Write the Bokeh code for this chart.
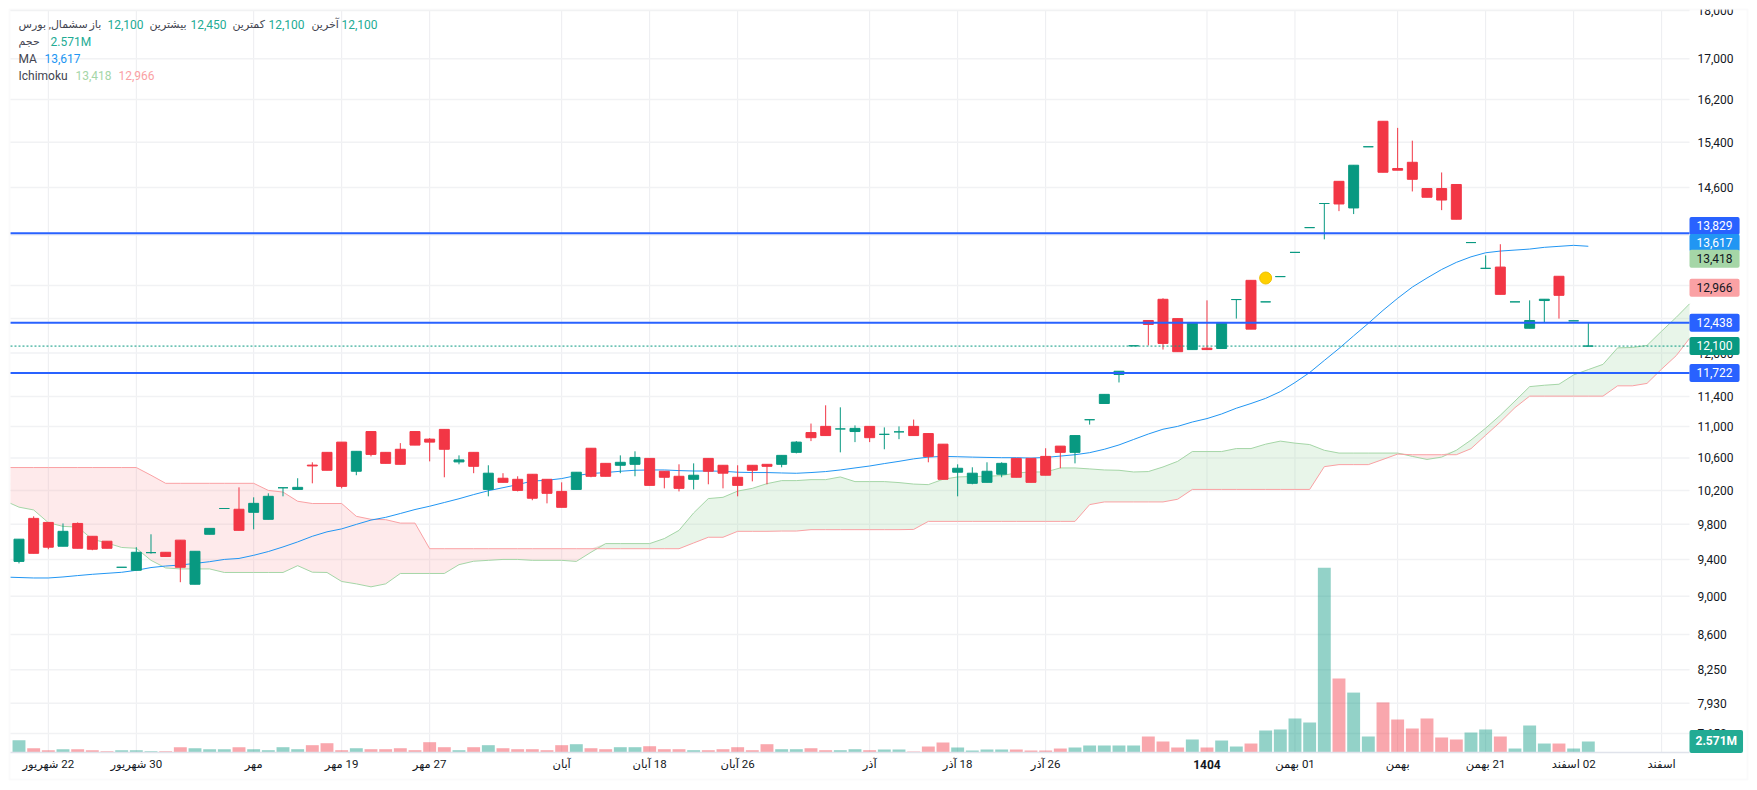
import numpy as np

from bokeh.embed import file_html
from bokeh.models import BoxAnnotation, FixedTicker, Label, LinearAxis, LinearScale, LogAxis, NumeralTickFormatter, Range1d
from bokeh.plotting import figure
from bokeh.resources import INLINE

opens = [9378, 9868, 9821, 9548, 9809, 9661, 9605, 9313, 9280, 9476,
         9480, 9617, 9128, 9684, 9984, 9975, 9939, 9857, 10232, 10212,
         10510, 10670, 10800, 10434, 10936, 10670, 10709, 10936, 10838, 10964,
         10550, 10670, 10212, 10348, 10335, 10397, 10335, 10188, 10212, 10722,
         10532, 10508, 10520, 10594, 10434, 10372, 10335, 10594, 10508, 10360,
         10508, 10520, 10520, 10670, 10923, 11003, 10970, 10936, 11003, 10900,
         10932, 11003, 10910, 10774, 10422, 10286, 10298, 10397, 10594, 10594,
         10619, 10749, 10670, 11090, 11305, 11700, 12104, 12472, 12789, 12500,
         12050, 12070, 12065, 12785, 13079, 12750, 13137, 13519, 13921, 14324,
         14705, 14249, 15319, 15788, 14930, 15040, 14580, 14580, 14650, 13677,
         13266, 13286, 12750, 12358, 12770, 13142, 12467, 12100]
highs = [9628, 9892, 9821, 9809, 9821, 9661, 9605, 9313, 9537, 9684,
         9480, 9617, 9491, 9752, 9984, 10237, 10117, 10165, 10232, 10348,
         10545, 10670, 10800, 10683, 10936, 10670, 10787, 10936, 10851, 10964,
         10632, 10670, 10508, 10410, 10372, 10397, 10335, 10298, 10422, 10722,
         10532, 10632, 10683, 10594, 10434, 10520, 10532, 10594, 10508, 10508,
         10508, 10520, 10632, 10813, 11040, 11281, 11254, 11016, 11003, 10990,
         11003, 11092, 10910, 10774, 10520, 10483, 10545, 10545, 10594, 10594,
         10722, 10749, 10884, 11090, 11428, 11745, 12104, 12472, 12804, 12500,
         12443, 12773, 12443, 12785, 13079, 12750, 13137, 13519, 13921, 14324,
         14705, 14988, 15319, 15788, 15665, 15430, 14580, 14860, 14650, 13677,
         13471, 13650, 12750, 12773, 12790, 13142, 12467, 12450]
lows = [9356, 9468, 9514, 9548, 9525, 9503, 9525, 9313, 9280, 9465,
        9433, 9150, 9128, 9684, 9984, 9729, 9741, 9857, 10129, 10212,
        10286, 10446, 10225, 10385, 10619, 10532, 10520, 10762, 10557, 10360,
        10520, 10410, 10129, 10298, 10188, 10082, 10045, 9998, 10212, 10360,
        10372, 10410, 10372, 10261, 10225, 10188, 10212, 10274, 10225, 10129,
        10310, 10274, 10483, 10657, 10813, 10884, 10670, 10800, 10800, 10709,
        10838, 10884, 10545, 10335, 10129, 10274, 10298, 10360, 10360, 10298,
        10385, 10471, 10532, 11026, 11305, 11590, 12104, 12109, 12050, 12020,
        12050, 12045, 12065, 12500, 12345, 12750, 13137, 13519, 13921, 13729,
        14195, 14146, 15319, 14864, 14900, 14530, 14430, 14212, 14060, 13677,
        13266, 12864, 12750, 12358, 12443, 12500, 12467, 12100]
closes = [9628, 9468, 9537, 9718, 9525, 9514, 9525, 9313, 9480, 9476,
          9433, 9313, 9491, 9752, 9984, 9729, 10045, 10129, 10232, 10237,
          10500, 10446, 10249, 10683, 10644, 10532, 10520, 10762, 10800, 10709,
          10575, 10495, 10410, 10298, 10200, 10106, 10165, 9998, 10422, 10372,
          10372, 10545, 10606, 10261, 10360, 10225, 10385, 10434, 10410, 10261,
          10446, 10495, 10632, 10800, 10857, 10884, 10970, 10977, 10857, 10900,
          10932, 10884, 10619, 10335, 10471, 10410, 10434, 10532, 10360, 10298,
          10385, 10670, 10884, 11090, 11428, 11745, 12104, 12414, 12138, 12020,
          12443, 12050, 12443, 12785, 12345, 12750, 13137, 13519, 13921, 14324,
          14316, 14988, 15319, 14864, 14900, 14740, 14430, 14383, 14060, 13677,
          13266, 12864, 12750, 12472, 12790, 12849, 12467, 12100]
volumes = [2.87, 1.0, 0.54, 0.77, 0.77, 0.54, 0.30, 0.54, 0.54, 0.30,
           0.30, 1.24, 1.0, 0.77, 0.77, 1.24, 0.77, 0.54, 1.24, 0.77,
           1.71, 2.17, 0.54, 1.0, 0.77, 0.77, 1.0, 0.54, 2.41, 1.24,
           0.54, 1.24, 1.71, 1.0, 0.77, 0.77, 0.54, 1.71, 1.94, 1.0,
           0.77, 1.24, 1.24, 1.47, 0.77, 0.77, 0.54, 0.54, 0.77, 1.24,
           0.54, 1.94, 0.77, 0.77, 1.0, 0.54, 0.54, 0.77, 0.54, 0.70,
           0.70, 0.23, 1.40, 2.34, 1.17, 0.47, 0.70, 0.70, 0.70, 0.47,
           0.47, 0.93, 1.17, 1.64, 1.64, 1.64, 1.64, 3.74, 2.57, 1.17,
           3.04, 1.17, 2.80, 1.40, 2.10, 5.14, 5.38, 7.95, 7.01, 43.2,
           17.3, 14.0, 3.74, 11.7, 7.71, 5.61, 7.95, 3.51, 3.04, 4.67,
           5.38, 3.74, 0.93, 6.31, 2.10, 2.10, 0.93, 2.571]

# these start at the left pane edge, the cloud runs 7 bars past the last candle
ma_values = [9204, 9201, 9196, 9196, 9207, 9222, 9236, 9247, 9258, 9280, 9310,
             9327, 9338, 9356, 9375, 9400, 9411, 9446, 9488, 9540, 9597,
             9661, 9712, 9746, 9798, 9848, 9880, 9925, 9972, 10011, 10055,
             10100, 10150, 10196, 10233, 10270, 10314, 10323, 10344, 10381, 10406,
             10418, 10434, 10446, 10450, 10450, 10442, 10437, 10437, 10434, 10422,
             10418, 10418, 10413, 10409, 10418, 10430, 10450, 10475, 10499, 10529,
             10557, 10588, 10610, 10619, 10615, 10610, 10606, 10603, 10603, 10598,
             10606, 10623, 10640, 10666, 10709, 10764, 10834, 10904, 10966, 11003,
             11060, 11105, 11166, 11242, 11305, 11374, 11465, 11589, 11727, 11896,
             12065, 12248, 12430, 12622, 12804, 12975, 13115, 13248, 13360, 13448,
             13513, 13540, 13556, 13572, 13600, 13616, 13632, 13617]
span_a = [10045, 10000, 9967, 9818, 9775, 9767, 9627, 9585, 9534, 9525, 9390,
          9306, 9295, 9295, 9295, 9256, 9256, 9256, 9256, 9256, 9331,
          9259, 9256, 9158, 9132, 9100, 9132, 9245, 9245, 9245, 9245,
          9342, 9380, 9390, 9400, 9400, 9390, 9390, 9390, 9378, 9480,
          9578, 9578, 9578, 9578, 9635, 9729, 9932, 10102, 10117, 10192,
          10225, 10282, 10319, 10319, 10331, 10331, 10364, 10307, 10307, 10307,
          10295, 10277, 10270, 10335, 10364, 10369, 10372, 10381, 10413, 10425,
          10425, 10475, 10475, 10463, 10450, 10446, 10425, 10430, 10487, 10557,
          10680, 10680, 10680, 10718, 10718, 10774, 10813, 10787, 10769, 10696,
          10661, 10661, 10661, 10661, 10661, 10619, 10581, 10610, 10696, 10826,
          10980, 11149, 11338, 11533, 11552, 11566, 11694, 11768, 11841, 12075,
          12080, 12109, 12316, 12520, 12720]
span_b = [10480, 10480, 10480, 10480, 10480, 10480, 10480, 10480, 10480, 10480, 10385,
          10286, 10286, 10286, 10286, 10286, 10286, 10286, 10200, 10180, 10070,
          10043, 10043, 10043, 9892, 9857, 9853, 9813, 9813, 9520, 9520,
          9520, 9520, 9520, 9520, 9520, 9520, 9520, 9520, 9520, 9520,
          9520, 9520, 9520, 9520, 9520, 9520, 9585, 9650, 9650, 9718,
          9718, 9718, 9721, 9721, 9737, 9737, 9737, 9737, 9737, 9737,
          9737, 9740, 9833, 9833, 9833, 9833, 9833, 9833, 9833, 9833,
          9833, 9833, 9833, 10030, 10062, 10062, 10062, 10062, 10062, 10094,
          10212, 10212, 10212, 10212, 10212, 10212, 10212, 10212, 10212, 10491,
          10516, 10516, 10516, 10581, 10648, 10640, 10640, 10640, 10640, 10716,
          10888, 11060, 11250, 11404, 11404, 11404, 11404, 11404, 11404, 11544,
          11544, 11577, 11775, 11965, 12210]

signal_bar = [85]
signal_price = [13115]
level_prices = [13829, 12438, 11722]
last_price = [12100]

price_ticks = [18000, 17000, 16200, 15400, 14600, 13800, 13000, 12500, 12000, 11400,
               11000, 10600, 10200, 9800, 9400, 9000, 8600, 8250, 7930, 7650]
date_ticks = [2, 8, 16, 22, 28, 37, 43, 49, 58, 64, 70, 81, 87, 94, 100, 106, 112]
date_labels = ["22 شهریور", "30 شهریور", "مهر", "19 مهر", "27 مهر", "آبان", "18 آبان", "26 آبان",
               "آذر", "18 آذر", "26 آذر", "", "01 بهمن", "بهمن", "21 بهمن", "02 اسفند", "اسفند"]
year_tick = 81
year_label = "1404"

tag_prices = [13829, 13617, 13418, 12966, 12438, 12100, 11722]
tag_fills = ["#2962FF", "#2196F3", "#A5D6A7", "#FAA1A4", "#2962FF", "#089981", "#2962FF"]
tag_texts = ["white", "white", "#131722", "#131722", "white", "white", "white"]
last_volume_label = "2.571M"

GREEN = "#089981"
RED = "#F23645"
FONT = "Roboto, 'DejaVu Sans', sans-serif"

# annotations get clipped to the frame, so the frame fills the canvas and the
# pane limits below stand in for what would normally be the frame edges
PANE_LEFT, PANE_RIGHT = -0.58, 113.9
PANE_TOP, PANE_BOTTOM = 18000, 7480

bars = np.arange(len(closes))
opens_a = np.array(opens)
closes_a = np.array(closes)
colors = [GREEN if c >= o else RED for o, c in zip(opens, closes)]
ma_x = np.arange(-1, len(ma_values) - 1).astype(float)
ma_x[0] = PANE_LEFT
cloud_x = np.arange(-1, len(span_a) - 1).astype(float)
cloud_x[0] = PANE_LEFT
cloud_x[-1] = PANE_RIGHT
a = np.array(span_a)
b = np.array(span_b)
top = np.maximum(a, b)

p = figure(width=1749, height=782, output_backend="svg", toolbar_location=None,
           y_axis_type="log", x_axis_location=None, y_axis_location=None,
           x_range=Range1d(-1.261, 117.99), y_range=Range1d(7219, 18214), min_border=0)
p.outline_line_color = None
p.grid.visible = False

p.extra_y_ranges = {"vol": Range1d(-7.01, 175.74)}
p.extra_y_scales = {"vol": LinearScale()}

xaxis = LinearAxis(fixed_location=PANE_BOTTOM, bounds=(PANE_LEFT, PANE_RIGHT),
                   ticker=FixedTicker(ticks=date_ticks))
xaxis.major_label_overrides = {t: "\u200f" + s if s else "" for t, s in zip(date_ticks, date_labels)}
xaxis.axis_line_color = "#e0e3eb"
xaxis.axis_line_width = 1.5
xaxis.major_tick_line_color = None
xaxis.minor_tick_line_color = None
xaxis.major_tick_out = 0
xaxis.major_tick_in = 0
xaxis.major_label_standoff = 5
xaxis.major_label_text_font = FONT
xaxis.major_label_text_font_size = "11.5px"
xaxis.major_label_text_color = "#131722"
p.add_layout(xaxis, "below")

yaxis = LogAxis(fixed_location=PANE_RIGHT, ticker=FixedTicker(ticks=price_ticks),
                formatter=NumeralTickFormatter(format="0,0"))
yaxis.axis_line_color = None
yaxis.major_tick_line_color = None
yaxis.minor_tick_line_color = None
yaxis.major_tick_out = 0
yaxis.major_tick_in = 0
yaxis.major_label_standoff = 8
yaxis.major_label_text_font = FONT
yaxis.major_label_text_font_size = "12px"
yaxis.major_label_text_color = "#131722"
p.add_layout(yaxis, "right")

p.segment(date_ticks, PANE_BOTTOM, date_ticks, PANE_TOP, line_color="#ecedf0", line_width=1)
p.segment(PANE_LEFT, price_ticks, PANE_RIGHT, price_ticks, line_color="#f1f2f4", line_width=1.5)

# volume sits behind everything else
p.vbar(x=bars, top=volumes, bottom=0, width=0.88, color=colors, alpha=0.44,
       line_color=None, y_range_name="vol")

# cloud, green where span A is on top and red where span B is
p.varea(x=cloud_x, y1=top, y2=b, fill_color="#A5D6A7", fill_alpha=0.25)
p.varea(x=cloud_x, y1=top, y2=a, fill_color="#FAA1A4", fill_alpha=0.22)
p.line(cloud_x, span_a, line_color="#A5D6A7", line_width=1)
p.line(cloud_x, span_b, line_color="#FAA1A4", line_width=1)

p.line(ma_x, ma_values, line_color="#2196F3", line_width=1)

p.segment(bars, lows, bars, highs, line_color=colors, line_width=1)
p.vbar(x=bars, top=np.maximum(opens_a, closes_a), bottom=np.minimum(opens_a, closes_a),
       width=0.68, fill_color=colors, line_color=colors, line_width=1)

p.segment(PANE_LEFT, level_prices, PANE_RIGHT, level_prices, line_color="#2962FF", line_width=2)
p.segment(PANE_LEFT, last_price, PANE_RIGHT, last_price, line_color=GREEN, line_width=1, line_dash=[[2, 2]])

p.scatter(signal_bar, signal_price, marker="circle", size=12,
          fill_color="#FFD000", line_color="#EDC000", line_width=1)

# hides the top half of the 18,000 label, the reference cuts it off at the pane edge
p.add_layout(BoxAnnotation(left=1689, right=1746, top=0, bottom=9,
                           left_units="canvas", right_units="canvas", top_units="canvas", bottom_units="canvas",
                           fill_color="white", fill_alpha=1, line_color=None))
p.add_layout(BoxAnnotation(left=9, right=1747, top=9, bottom=779,
                           left_units="canvas", right_units="canvas", top_units="canvas", bottom_units="canvas",
                           fill_alpha=0, line_color="#eff0f3", line_width=2))

# price tags, the two top ones are nudged apart so they do not collide
tag_nudge = {13829: 13946, 13617: 13671}
for price, fill, text in zip(tag_prices, tag_fills, tag_texts):
    p.add_layout(Label(x=1689, x_units="screen", y=tag_nudge.get(price, price), text=f"{price:,}",
                       anchor="center_left", text_baseline="middle",
                       text_font=FONT, text_font_size="12px", text_color=text,
                       background_fill_color=fill, padding=(7, 7, 4, 5), border_radius=2))
p.add_layout(Label(x=1689, x_units="screen", y=volumes[-1], y_range_name="vol", text=last_volume_label,
                   anchor="center_left", text_baseline="middle",
                   text_font=FONT, text_font_size="12px", text_font_style="bold", text_color="white",
                   background_fill_color="#22AB94", padding=(6, 6, 4, 5), border_radius=2))

p.add_layout(Label(x=year_tick, y=18, y_units="screen", text=year_label,
                   text_align="center", text_baseline="middle",
                   text_font=FONT, text_font_size="12px", text_font_style="bold", text_color="#131722"))

# legend rows in the top left corner: text, colour, left edge, row centre, size
TEAL = "#22AB94"
DARK = "#42444F"
legend_rows = [
    ("سشمال, بورس", DARK, 18, 24, "11px"), ("باز", DARK, 89, 24, "11px"), ("12,100", TEAL, 107, 24, "12px"),
    ("بیشترین", DARK, 149, 24, "11px"), ("12,450", TEAL, 190, 24, "12px"), ("کمترین", DARK, 232, 24, "11px"),
    ("12,100", TEAL, 268, 24, "12px"), ("آخرین", DARK, 311, 24, "11px"), ("12,100", TEAL, 341, 24, "12px"),
    ("حجم", DARK, 18, 41, "11px"), ("2.571M", TEAL, 50, 41, "12px"),
    ("MA", DARK, 18, 58, "12px"), ("13,617", "#2196F3", 44, 58, "12px"),
    ("Ichimoku", DARK, 18, 75, "12px"), ("13,418", "#A5D6A7", 75, 75, "12px"), ("12,966", "#FAA1A4", 118, 75, "12px"),
]
for text, color, left, row, size in legend_rows:
    p.add_layout(Label(x=left, y=782 - row, x_units="screen", y_units="screen", text=text,
                       text_baseline="middle", text_font=FONT, text_font_size=size, text_color=color))

open("out.html", "w").write(file_html(p, INLINE))
